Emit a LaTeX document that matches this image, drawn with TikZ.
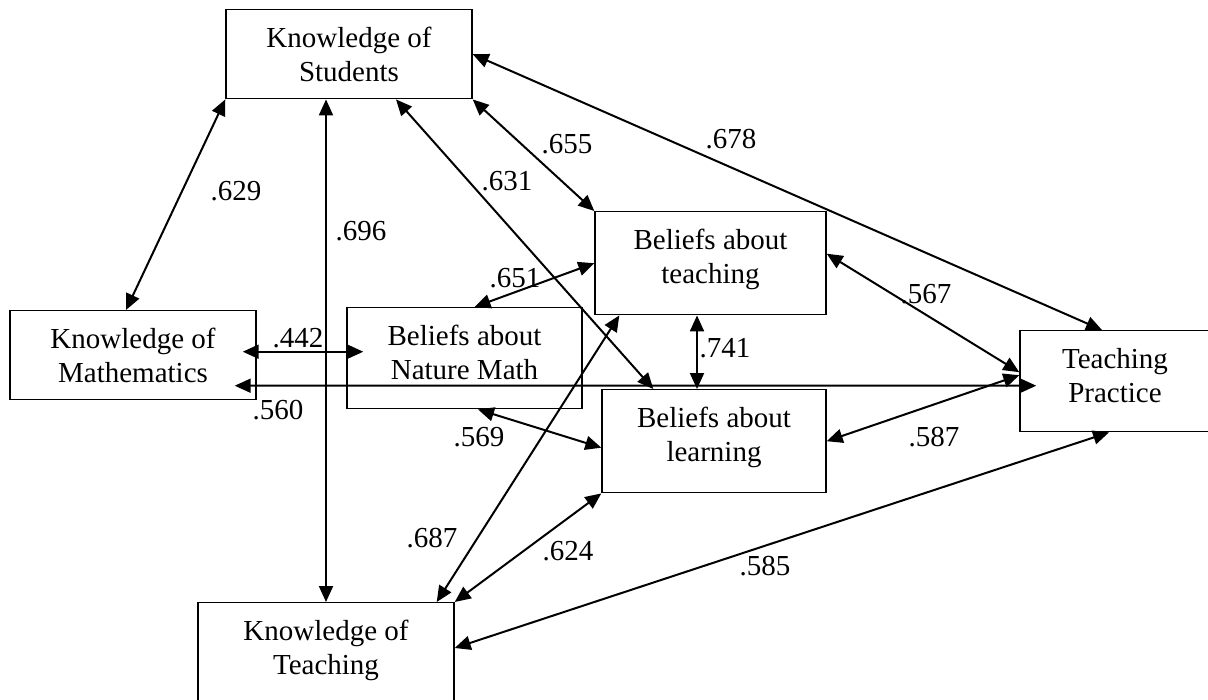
\documentclass[tikz,border=0pt]{standalone}
\usepackage{fontspec}
\setmainfont{Liberation Serif}
\usepackage{tikz}
\usetikzlibrary{arrows.meta, calc}

\newcommand{\headstrut}{\rule{0pt}{10.2pt}}
\newcommand{\footpad}[1]{\rule[-#1]{0pt}{#1}}

\tikzset{
  construct/.style={draw, line width=0.7pt, anchor=north, align=center,
    inner xsep=0pt, inner ysep=8.5pt, font=\fontsize{14.5pt}{17pt}\selectfont},
  corr/.style={<->, >={Triangle[length=8pt,width=7pt]}, line width=1pt},
  coef/.style={inner sep=0pt, font=\fontsize{14.5pt}{17pt}\selectfont}
}

\begin{document}
\begin{tikzpicture}[x=0.5pt, y=-0.5pt]
\useasboundingbox (0,0) rectangle (1208,700);
% constructs
\node[construct, minimum width=123pt] (KS) at (349,9) {\headstrut Knowledge of\\Students\footpad{0.3pt}};
\node[construct, minimum width=123pt] (KM) at (133,310) {\headstrut Knowledge of\\Mathematics\footpad{0.3pt}};
\node[construct, minimum width=117.5pt] (BN) at (464.5,307) {\headstrut Beliefs about\\Nature Math\footpad{6.3pt}};
\node[construct, minimum width=115.5pt] (BT) at (710.5,211) {\headstrut Beliefs about\\teaching\footpad{7.3pt}};
\node[construct, minimum width=112pt] (BL) at (714,389) {\headstrut Beliefs about\\learning\footpad{7.3pt}};
\node[construct, minimum width=95pt] (TP) at (1115,330) {\headstrut Teaching\\Practice\footpad{6.3pt}};
\node[construct, minimum width=128pt] (KT) at (326,602) {\headstrut Knowledge of\\Teaching\footpad{14pt}};

% correlations
\draw[corr] (KS.south west) -- ($(KM.north)+(-7,0)$);
\draw[corr] (KT.north) -- (KT.north |- KS.south);
\draw[corr] ($(KS.south)+(47,0)$) -- ($(BL.north west)+(52,0)$);
\draw[corr] (KS.south east) -- (BT.north west);
\draw[corr] (KS.east) -- ($(TP.north)+(-13,0)$);
\draw[corr] (BT.west) -- ($(BN.north)+(10,0)$);
\draw[corr] ($(KM.east)+(-14,-3.5)$) -- ($(BN.west)+(17,-6.5)$);
\draw[corr] ($(KM.east)+(-22,30.5)$) -- ($(TP.west)+(17,4.5)$);
\draw[corr] ($(BT.south)+(-13.5,0)$) -- ($(BL.north)+(-17,0)$);
\draw[corr] ($(BN.south)+(13.5,0)$) -- ($(BL.west)+(0,6.5)$);
\draw[corr] ($(BT.south west)+(25,0)$) -- ($(KT.north east)+(-18,0)$);
\draw[corr] (BL.south west) -- (KT.north east);
\draw[corr] ($(KT.north east)+(0,46)$) -- ($(TP.south)+(-6,0)$);
\draw[corr] ($(BT.east)+(0,-9.5)$) -- ($(TP.west)+(0,-9)$);
\draw[corr] (BL.east) -- ($(TP.west)+(0,-6)$);

% coefficients
\foreach \v/\x/\y in {629/236/191, 696/361/231, 631/507/181, 655/567/144,
    678/731/139, 651/515/278, 442/298/338, 560/278/410, 741/725/348,
    569/479/437, 687/432/538, 624/568/551, 585/765/566, 567/926/294, 587/934/437}
  \node[coef] (c\v) at (\x,\y) {.\v};
\end{tikzpicture}
\end{document}
